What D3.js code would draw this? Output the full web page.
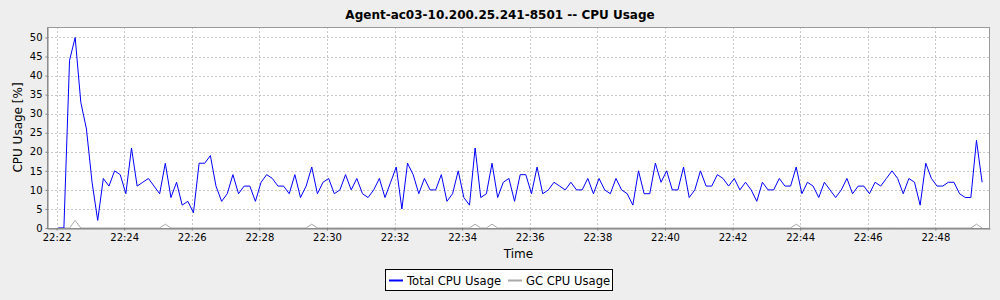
<!DOCTYPE html>
<html>
<head>
    <style>
        body { margin: 0; background: #eeeeee; }
        text { font-family: "DejaVu Sans", sans-serif; fill: #000; }
        .tick text { font-size: 10px; }
        .grid line { stroke: #c8c8c8; stroke-dasharray: 2,2; }
    </style>
    <script src="https://d3js.org/d3.v7.min.js"></script>
</head>
<body>
    <svg width="1000" height="300"></svg>
    <script>

        // samples every 10 seconds starting 22:22:03
        var startTime = new Date(2020, 0, 1, 22, 22, 3),
            stepSeconds = 10

        var totalCpu = [0, 0, 44, 50, 33, 26, 12, 2, 13, 11, 15, 14, 9, 21, 11, 12, 13, 11, 9, 17,
                        8, 12, 6, 7, 4, 17, 17, 19, 11, 7, 9, 14, 9, 11, 11, 7, 12, 14, 13, 11,
                        11, 9, 14, 8, 11, 16, 9, 12, 13, 9, 10, 14, 10, 13, 9, 8, 10, 13, 8, 12,
                        16, 5, 17, 14, 9, 13, 10, 10, 14, 7, 9, 15, 8, 6, 21, 8, 9, 17, 8, 12,
                        13, 7, 14, 14, 9, 16, 9, 10, 12, 11, 10, 12, 10, 10, 13, 9, 13, 10, 9, 13,
                        10, 9, 6, 15, 9, 9, 17, 12, 15, 10, 10, 16, 8, 10, 15, 11, 11, 14, 13, 11,
                        13, 10, 12, 10, 7, 12, 10, 10, 13, 11, 11, 16, 9, 12, 11, 8, 12, 10, 8, 10,
                        13, 9, 11, 11, 9, 12, 11, 13, 15, 13, 9, 13, 12, 6, 17, 13, 11, 11, 12, 12,
                        9, 8, 8, 23, 12]

        var gcCpu = [0, 0, 0, 2, 0, 0, 0, 0, 0, 0, 0, 0, 0, 0, 0, 0, 0, 0, 0, 1,
                     0, 0, 0, 0, 0, 0, 0, 0, 0, 0, 0, 0, 0, 0, 0, 0, 0, 0, 0, 0,
                     0, 0, 0, 0, 0, 1, 0, 0, 0, 0, 0, 0, 0, 0, 0, 0, 0, 0, 0, 0,
                     0, 0, 0, 0, 0, 0, 0, 0, 0, 0, 0, 0, 0, 0, 1, 0, 0, 1, 0, 0,
                     0, 0, 0, 0, 0, 0, 0, 0, 0, 0, 0, 0, 0, 0, 0, 0, 0, 0, 0, 0,
                     0, 0, 0, 0, 0, 0, 0, 0, 0, 0, 0, 0, 0, 0, 0, 0, 0, 0, 0, 0,
                     0, 0, 0, 0, 0, 0, 0, 0, 0, 0, 0, 1, 0, 0, 0, 0, 0, 0, 0, 0,
                     0, 0, 0, 0, 0, 0, 0, 0, 0, 0, 0, 0, 0, 0, 0, 0, 0, 0, 0, 0,
                     0, 0, 0, 1, 0]

        var yTicks = [0, 5, 10, 15, 20, 25, 30, 35, 40, 45, 50]
        var seriesNames = ["Total CPU Usage", "GC CPU Usage"]
        var seriesColors = ["#0000ff", "#a8a8a8"]
        var chartTitle = "Agent-ac03-10.200.25.241-8501 -- CPU Usage"

        var svg = d3.select("svg"),
            plotLeft = 47, plotRight = 990, plotTop = 27, plotBottom = 228

        function timeAt(i) { return new Date(startTime.getTime() + i * stepSeconds * 1000) }

        var x = d3.scaleTime()
                  .domain([new Date(2020, 0, 1, 22, 21, 43), new Date(2020, 0, 1, 22, 49, 37)])
                  .range([plotLeft, plotRight])

        var y = d3.scaleLinear()
                  .domain([0, 52.75])
                  .range([plotBottom, plotTop])

        var xTicks = x.ticks(d3.timeMinute.every(2))

        // plot background
        svg.append("rect")
           .attr("x", plotLeft).attr("y", plotTop)
           .attr("width", plotRight - plotLeft).attr("height", plotBottom - plotTop)
           .attr("fill", "#fff")

        // grid
        var grid = svg.append("g").attr("class", "grid")
        grid.selectAll(".gx").data(xTicks).enter().append("line")
            .attr("x1", function(d) { return Math.round(x(d)) + 0.5 })
            .attr("x2", function(d) { return Math.round(x(d)) + 0.5 })
            .attr("y1", plotTop).attr("y2", plotBottom)
        grid.selectAll(".gy").data(yTicks.slice(1)).enter().append("line")
            .attr("y1", function(d) { return Math.round(y(d)) + 0.5 })
            .attr("y2", function(d) { return Math.round(y(d)) + 0.5 })
            .attr("x1", plotLeft).attr("x2", plotRight)

        // lines
        var line = d3.line()
                     .x(function(d, i) { return x(timeAt(i)) })
                     .y(function(d) { return y(d) })

        svg.append("path")
           .datum(gcCpu)
           .attr("d", line)
           .attr("fill", "none")
           .attr("stroke", seriesColors[1])
           .attr("stroke-width", 1)

        svg.append("path")
           .datum(totalCpu)
           .attr("d", line)
           .attr("fill", "none")
           .attr("stroke", seriesColors[0])
           .attr("stroke-width", 1)

        // frame
        svg.append("rect")
           .attr("x", plotLeft + 0.5).attr("y", plotTop + 0.5)
           .attr("width", plotRight - plotLeft - 1).attr("height", plotBottom - plotTop)
           .attr("fill", "none")
           .attr("stroke", "#999")

        // axes
        var xAxis = svg.append("g")
           .attr("transform", "translate(0," + (plotBottom + 0.5) + ")")
           .call(d3.axisBottom(x).tickValues(xTicks).tickFormat(d3.timeFormat("%H:%M")).tickSize(2).tickSizeOuter(0).tickPadding(3))
        xAxis.select(".domain").attr("stroke", "#808080")
        xAxis.selectAll(".tick line").attr("stroke", "#808080")

        var yAxis = svg.append("g")
           .attr("transform", "translate(" + (plotLeft + 0.5) + ",0)")
           .call(d3.axisLeft(y).tickValues(yTicks).tickSize(2).tickSizeOuter(0).tickPadding(3))
        yAxis.select(".domain").attr("stroke", "#808080")
        yAxis.selectAll(".tick line").attr("stroke", "#808080")

        // titles
        svg.append("text")
           .attr("x", 500).attr("y", 19)
           .attr("text-anchor", "middle")
           .style("font-size", "12px").style("font-weight", "bold")
           .text(chartTitle)

        svg.append("text")
           .attr("x", (plotLeft + plotRight) / 2).attr("y", 258)
           .attr("text-anchor", "middle")
           .style("font-size", "12px")
           .text("Time")

        svg.append("text")
           .attr("transform", "translate(22," + ((plotTop + plotBottom) / 2) + ") rotate(-90)")
           .attr("text-anchor", "middle")
           .style("font-size", "12px")
           .text("CPU Usage [%]")

        // legend
        var legend = svg.append("g")
        legend.append("rect")
              .attr("x", 385.5).attr("y", 269.5).attr("width", 227).attr("height", 21)
              .attr("fill", "#fff").attr("stroke", "#000")
        var legendX = [389, 508]
        seriesNames.forEach(function(name, i) {
            legend.append("line")
                  .attr("x1", legendX[i]).attr("x2", legendX[i] + 14)
                  .attr("y1", 280.5).attr("y2", 280.5)
                  .attr("stroke", seriesColors[i]).attr("stroke-width", 2)
            legend.append("text")
                  .attr("x", legendX[i] + 18).attr("y", 284.5)
                  .style("font-size", "11.6px")
                  .text(name)
        })
    </script>
</body>
</html>
